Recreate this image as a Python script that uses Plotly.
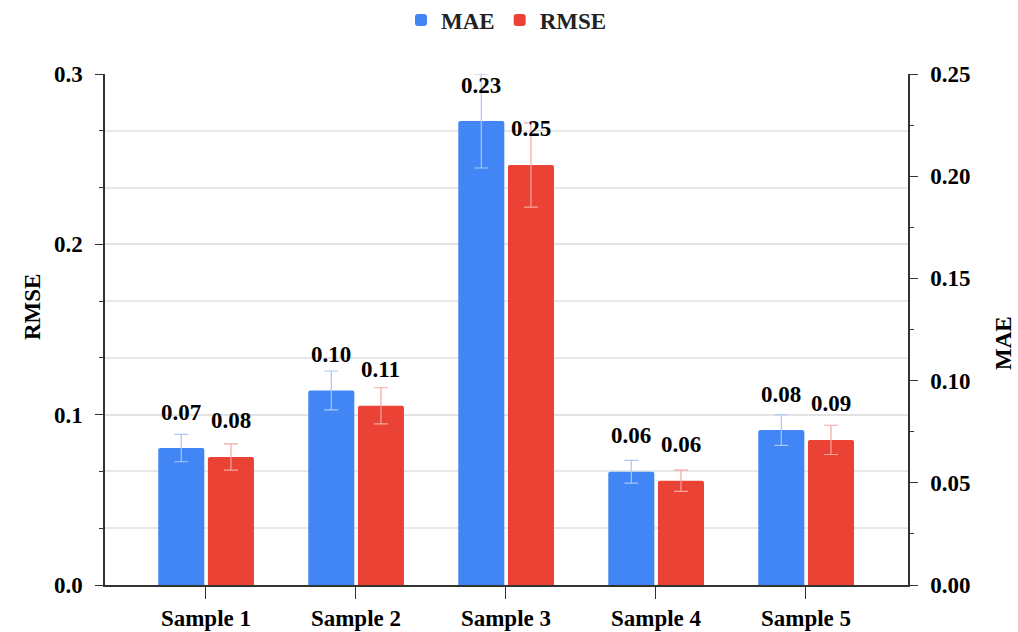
import plotly.graph_objects as go

categories = ["Sample 1", "Sample 2", "Sample 3", "Sample 4", "Sample 5"]
mae_values = [0.067, 0.0952, 0.227, 0.0554, 0.0758]
mae_errors = [0.0067, 0.0095, 0.023, 0.0056, 0.0075]
rmse_values = [0.0752, 0.1052, 0.2466, 0.0612, 0.0852]
rmse_errors = [0.0077, 0.0106, 0.0247, 0.0062, 0.0086]

rmse_ticks = [0.0, 0.1, 0.2, 0.3]
mae_ticks = [0.0, 0.05, 0.10, 0.15, 0.20, 0.25]

BLUE = "#4285F4"
RED = "#EA4335"
FONT = "Liberation Serif"
AXC = "#333333"
FS = 23

fig = go.Figure()
fig.add_trace(go.Bar(
    name="MAE", x=categories, y=mae_values, yaxis="y2",
    marker=dict(color=BLUE, line=dict(width=0)),
    width=0.307, offset=-0.318,
    error_y=dict(type="data", array=mae_errors, color="#A9C7F7", thickness=1.2, width=7),
))
fig.add_trace(go.Bar(
    name="RMSE", x=categories, y=rmse_values, yaxis="y",
    marker=dict(color=RED, line=dict(width=0)),
    width=0.307, offset=0.013,
    error_y=dict(type="data", array=rmse_errors, color="#F4A7A0", thickness=1.2, width=7),
))

lab_font = dict(family=FONT, size=FS, color="#000", weight="bold")
annotations = []
for c, v in zip(categories, mae_values):
    annotations.append(dict(x=c, y=v, xref="x", yref="y2", text=f"{v:.2f}", showarrow=False,
                            xshift=-25, yshift=36, xanchor="center", yanchor="middle", font=lab_font))
for c, v in zip(categories, rmse_values):
    annotations.append(dict(x=c, y=v, xref="x", yref="y", text=f"{v:.2f}", showarrow=False,
                            xshift=25, yshift=36, xanchor="center", yanchor="middle", font=lab_font))
title_font = dict(family=FONT, size=23, color="#000", weight="bold")
annotations.append(dict(x=-0.0909, y=0.544, xref="paper", yref="paper", text="RMSE", textangle=-90,
                        xanchor="center", yanchor="middle", showarrow=False, font=title_font))
annotations.append(dict(x=1.1196, y=0.4736, xref="paper", yref="paper", text="MAE", textangle=-90,
                        xanchor="center", yanchor="middle", showarrow=False, font=title_font))

tickfont = dict(family=FONT, size=FS, color="#000", weight="bold")

fig.update_layout(
    width=1018, height=632,
    margin=dict(l=105, r=110, t=74, b=47, autoexpand=False),
    plot_bgcolor="white", paper_bgcolor="white",
    barmode="overlay",
    barcornerradius=2,
    showlegend=True,
    legend=dict(orientation="h", x=0.5, xanchor="center", y=1.1057, yanchor="middle",
                font=dict(family=FONT, size=FS, color="#222", weight="bold"),
                traceorder="normal"),
    xaxis=dict(type="category", range=[-0.673, 4.68], showline=True, linecolor=AXC, linewidth=1.5,
               ticks="outside", ticklen=12, tickcolor=AXC, tickfont=tickfont, showgrid=False,
               zeroline=False, automargin=False),
    yaxis=dict(range=[0, 0.3], tickvals=rmse_ticks, tickformat=".1f", showline=True, linecolor=AXC,
               linewidth=1.5, ticks="outside", ticklen=8, tickcolor=AXC, tickfont=tickfont,
               ticklabelstandoff=8,
               showgrid=True, gridcolor="#E3E3E3", gridwidth=1.5, zeroline=False, automargin=False,
               minor=dict(dtick=0.1 / 3, tick0=0, ticks="outside", ticklen=4, tickcolor=AXC,
                          showgrid=True, gridcolor="#E8E8E8", gridwidth=1.5)),
    yaxis2=dict(range=[0, 0.25], tickvals=mae_ticks, tickformat=".2f", overlaying="y", side="right",
                showline=True, linecolor=AXC, linewidth=1.5, ticks="outside", ticklen=8, tickcolor=AXC,
                tickfont=tickfont, ticklabelstandoff=8, showgrid=False, zeroline=False, automargin=False,
                minor=dict(dtick=0.025, tick0=0, ticks="outside", ticklen=4, tickcolor=AXC, showgrid=False)),
    yaxis3=dict(range=[0, 0.3], dtick=0.1, overlaying="y", side="left", anchor="x", showline=False,
                ticks="inside", ticklen=8, tickcolor=AXC, showticklabels=False, showgrid=False,
                zeroline=False, automargin=False,
                minor=dict(dtick=0.1 / 3, tick0=0, ticks="inside", ticklen=4, tickcolor=AXC, showgrid=False)),
    yaxis4=dict(range=[0, 0.25], dtick=0.05, overlaying="y", side="right", anchor="x", showline=False,
                ticks="inside", ticklen=8, tickcolor=AXC, showticklabels=False, showgrid=False,
                zeroline=False, automargin=False,
                minor=dict(dtick=0.025, tick0=0, ticks="inside", ticklen=4, tickcolor=AXC, showgrid=False)),
    annotations=annotations,
)

fig.write_html("out.html", config={"displayModeBar": False},
               post_script="document.body.style.margin='0';")
